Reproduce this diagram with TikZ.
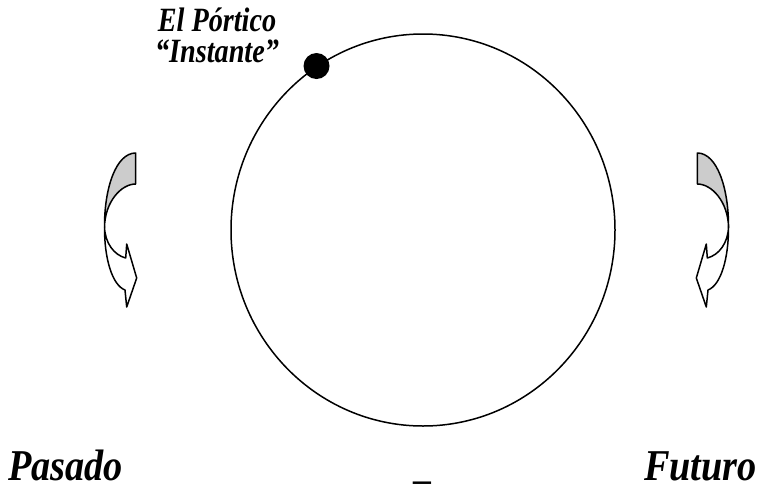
\documentclass[tikz,border=0pt]{standalone}
\usepackage{fontspec}
\setmainfont{Liberation Serif}
\newfontfamily\narrowserif[FakeStretch=0.87]{Liberation Serif}
\newfontfamily\topserif[FakeStretch=0.83]{Liberation Serif}
\usetikzlibrary{shapes.geometric}
\definecolor{backgray}{HTML}{CCCCCC}
\tikzset{
  ringstyle/.style={draw, ellipse, inner sep=0pt, minimum width=384pt, minimum height=392pt, line width=1.5pt},
  dotstyle/.style={fill=black, circle, inner sep=0pt, minimum size=26pt},
  bigtext/.style={font=\narrowserif\fontsize{44}{48}\selectfont\bfseries\itshape, inner sep=0pt},
  toptext/.style={font=\topserif\fontsize{34}{31}\selectfont\bfseries\itshape, align=center, inner sep=0pt},
  bentarrow/.pic={
    \filldraw[fill=backgray, line width=1.5pt, line join=round]
      (135.7,153) .. controls (116,153) and (104.3,188) .. (104.5,227)
      .. controls (105,202) and (121,184) .. (135.7,184) -- cycle;
    \filldraw[fill=white, line width=1.5pt, line join=round]
      (104.5,227) .. controls (105,243) and (114,255) .. (125.7,258)
      -- (126.7,244) -- (136.7,278) -- (126.7,307) -- (125,290)
      .. controls (112,285) and (104.3,258) .. (104.5,227) -- cycle;
  }
}
\begin{document}
\begin{tikzpicture}[x=1pt,y=-1pt]
\useasboundingbox (0,0) rectangle (765,490);
\node[ringstyle] (ring) at (423,230) {};
\node[dotstyle] (dot) at (ring.123) {};
\node[toptext, anchor=south] (title) at (217,63) {El Pórtico\\“Instante”};
\pic (larrow) at (0,0) {bentarrow};
\pic[xscale=-1] (rarrow) at (833,0) {bentarrow};
\node[bigtext, anchor=base west] (past) at (8,480) {Pasado};
\node[bigtext, anchor=base east] (future) at (757,480) {Futuro};
\node[anchor=base, inner sep=0pt, font=\fontsize{35.6}{40}\selectfont\bfseries] (mid) at (422,479) {\_};
\end{tikzpicture}
\end{document}
